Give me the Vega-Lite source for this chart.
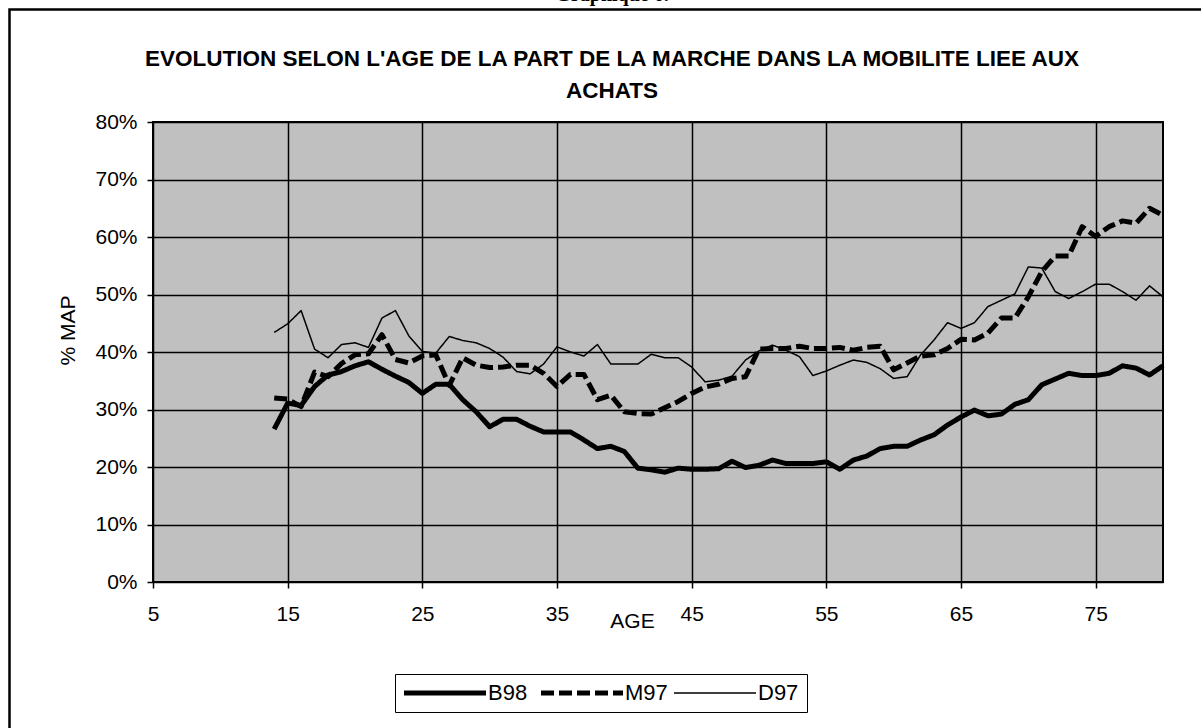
{
  "$schema": "https://vega.github.io/schema/vega-lite/v6.json",
  "width": 1010,
  "height": 460,
  "autosize": {"type": "none"},
  "padding": {"left": 153, "top": 122, "right": 38, "bottom": 146},
  "background": "white",
  "title": {
    "text": "Graphique 6.",
    "subtitle": ["EVOLUTION SELON L'AGE DE LA PART DE LA MARCHE DANS LA MOBILITE LIEE AUX", "ACHATS"],
    "anchor": "middle",
    "frame": "group",
    "dx": -46,
    "dy": 94,
    "offset": 0,
    "font": "Liberation Serif",
    "fontSize": 20,
    "fontWeight": "bold",
    "color": "black",
    "subtitleFont": "Liberation Sans",
    "subtitleFontSize": 22.5,
    "subtitleFontWeight": "bold",
    "subtitleColor": "black",
    "subtitleLineHeight": 32,
    "subtitlePadding": 43
  },
  "config": {
    "view": {"fill": "#C0C0C0", "stroke": "black", "strokeWidth": 2},
    "axis": {
      "gridColor": "black", "gridWidth": 1.5, "gridOpacity": 1,
      "domain": false,
      "tickColor": "black", "tickWidth": 1.5, "tickSize": 6,
      "labelColor": "black", "labelFont": "Liberation Sans", "labelFontSize": 21,
      "labelFlush": false, "labelOverlap": false,
      "titleFont": "Liberation Sans", "titleFontSize": 21, "titleFontWeight": "normal", "titleColor": "black"
    }
  },
  "layer": [
    {
      "data": {"values": [
        {"age":14,"B98":0.266,"M97":0.320,"D97":0.434},
        {"age":15,"B98":0.311,"M97":0.318,"D97":0.449},
        {"age":16,"B98":0.307,"M97":0.305,"D97":0.472},
        {"age":17,"B98":0.340,"M97":0.365,"D97":0.405},
        {"age":18,"B98":0.360,"M97":0.357,"D97":0.390},
        {"age":19,"B98":0.366,"M97":0.380,"D97":0.413},
        {"age":20,"B98":0.376,"M97":0.395,"D97":0.416},
        {"age":21,"B98":0.383,"M97":0.397,"D97":0.408},
        {"age":22,"B98":0.370,"M97":0.430,"D97":0.459},
        {"age":23,"B98":0.358,"M97":0.387,"D97":0.472},
        {"age":24,"B98":0.347,"M97":0.381,"D97":0.428},
        {"age":25,"B98":0.328,"M97":0.393,"D97":0.401},
        {"age":26,"B98":0.344,"M97":0.395,"D97":0.398},
        {"age":27,"B98":0.344,"M97":0.342,"D97":0.427},
        {"age":28,"B98":0.317,"M97":0.390,"D97":0.420},
        {"age":29,"B98":0.296,"M97":0.377,"D97":0.416},
        {"age":30,"B98":0.270,"M97":0.373,"D97":0.406},
        {"age":31,"B98":0.283,"M97":0.374,"D97":0.391},
        {"age":32,"B98":0.283,"M97":0.377,"D97":0.366},
        {"age":33,"B98":0.271,"M97":0.377,"D97":0.362},
        {"age":34,"B98":0.261,"M97":0.363,"D97":0.379},
        {"age":35,"B98":0.261,"M97":0.340,"D97":0.409},
        {"age":36,"B98":0.261,"M97":0.361,"D97":0.400},
        {"age":37,"B98":0.247,"M97":0.361,"D97":0.393},
        {"age":38,"B98":0.232,"M97":0.317,"D97":0.413},
        {"age":39,"B98":0.236,"M97":0.325,"D97":0.379},
        {"age":40,"B98":0.227,"M97":0.296,"D97":0.379},
        {"age":41,"B98":0.198,"M97":0.293,"D97":0.379},
        {"age":42,"B98":0.195,"M97":0.292,"D97":0.396},
        {"age":43,"B98":0.191,"M97":0.303,"D97":0.390},
        {"age":44,"B98":0.198,"M97":0.314,"D97":0.390},
        {"age":45,"B98":0.196,"M97":0.328,"D97":0.374},
        {"age":46,"B98":0.196,"M97":0.339,"D97":0.348},
        {"age":47,"B98":0.197,"M97":0.344,"D97":0.351},
        {"age":48,"B98":0.210,"M97":0.354,"D97":0.358},
        {"age":49,"B98":0.199,"M97":0.357,"D97":0.386},
        {"age":50,"B98":0.203,"M97":0.405,"D97":0.402},
        {"age":51,"B98":0.212,"M97":0.406,"D97":0.412},
        {"age":52,"B98":0.206,"M97":0.406,"D97":0.403},
        {"age":53,"B98":0.206,"M97":0.410,"D97":0.392},
        {"age":54,"B98":0.206,"M97":0.406,"D97":0.359},
        {"age":55,"B98":0.209,"M97":0.406,"D97":0.367},
        {"age":56,"B98":0.196,"M97":0.408,"D97":0.377},
        {"age":57,"B98":0.212,"M97":0.403,"D97":0.386},
        {"age":58,"B98":0.219,"M97":0.408,"D97":0.382},
        {"age":59,"B98":0.232,"M97":0.410,"D97":0.371},
        {"age":60,"B98":0.236,"M97":0.369,"D97":0.354},
        {"age":61,"B98":0.236,"M97":0.381,"D97":0.357},
        {"age":62,"B98":0.247,"M97":0.393,"D97":0.395},
        {"age":63,"B98":0.256,"M97":0.395,"D97":0.421},
        {"age":64,"B98":0.273,"M97":0.406,"D97":0.451},
        {"age":65,"B98":0.287,"M97":0.422,"D97":0.441},
        {"age":66,"B98":0.299,"M97":0.421,"D97":0.451},
        {"age":67,"B98":0.289,"M97":0.433,"D97":0.479},
        {"age":68,"B98":0.292,"M97":0.459,"D97":0.490},
        {"age":69,"B98":0.309,"M97":0.459,"D97":0.501},
        {"age":70,"B98":0.317,"M97":0.496,"D97":0.548},
        {"age":71,"B98":0.343,"M97":0.540,"D97":0.546},
        {"age":72,"B98":0.353,"M97":0.567,"D97":0.505},
        {"age":73,"B98":0.363,"M97":0.567,"D97":0.493},
        {"age":74,"B98":0.359,"M97":0.618,"D97":0.505},
        {"age":75,"B98":0.359,"M97":0.601,"D97":0.518},
        {"age":76,"B98":0.363,"M97":0.618,"D97":0.518},
        {"age":77,"B98":0.376,"M97":0.628,"D97":0.505},
        {"age":78,"B98":0.372,"M97":0.624,"D97":0.490},
        {"age":79,"B98":0.360,"M97":0.650,"D97":0.515},
        {"age":80,"B98":0.376,"M97":0.638,"D97":0.496}
      ]},
      "transform": [{"fold": ["B98", "M97", "D97"], "as": ["series", "value"]}],
      "mark": {"type": "line", "color": "black", "strokeCap": "butt", "strokeJoin": "round"},
      "encoding": {
        "x": {
          "field": "age", "type": "quantitative",
          "scale": {"domain": [5, 80], "nice": false, "zero": false},
          "axis": {"values": [5, 15, 25, 35, 45, 55, 65, 75], "title": "AGE", "labelPadding": 15,
                   "titleX": 479, "titleY": 45, "titleBaseline": "alphabetic", "titleAnchor": "middle", "titleAlign": "center"}
        },
        "y": {
          "field": "value", "type": "quantitative",
          "scale": {"domain": [0, 0.8], "nice": false, "zero": false},
          "axis": {"values": [0, 0.1, 0.2, 0.3, 0.4, 0.5, 0.6, 0.7, 0.8], "format": ".0%", "title": "% MAP",
                   "labelPadding": 10, "titleX": -85, "titleY": 208, "titleBaseline": "middle", "titleAlign": "center", "titleAngle": -90}
        },
        "strokeDash": {
          "field": "series", "type": "nominal",
          "scale": {"domain": ["B98", "M97", "D97"], "range": [[1, 0], [13, 5], [1, 0]]},
          "legend": {
            "orient": "none", "legendX": 242, "legendY": 552, "direction": "horizontal", "title": null,
            "symbolType": "M-2,0H14.4", "symbolSize": 100, "symbolStrokeColor": "black",
            "labelFont": "Liberation Sans", "labelFontSize": 22, "labelColor": "black", "labelOffset": 63,
            "columnPadding": 3, "padding": 8, "strokeColor": "black", "fillColor": "white"
          }
        },
        "strokeWidth": {
          "field": "series", "type": "nominal",
          "scale": {"type": "ordinal", "domain": ["B98", "M97", "D97"], "range": [5, 5, 1.5]},
          "legend": {
            "orient": "none", "legendX": 242, "legendY": 552, "direction": "horizontal", "title": null,
            "symbolType": "M-2,0H14.4", "symbolSize": 100, "symbolStrokeColor": "black",
            "labelFont": "Liberation Sans", "labelFontSize": 22, "labelColor": "black", "labelOffset": 63,
            "columnPadding": 3, "padding": 8, "strokeColor": "black", "fillColor": "white"
          }
        }
      }
    },
    {
      "data": {"values": [{}]},
      "mark": {"type": "rect", "fillOpacity": 0, "stroke": "black", "strokeWidth": 2.5, "clip": false},
      "encoding": {
        "x": {"datum": -5.656, "type": "quantitative", "scale": {"domain": [5, 80], "nice": false, "zero": false}},
        "x2": {"datum": 90},
        "y": {"datum": 0.9957, "type": "quantitative", "scale": {"domain": [0, 0.8], "nice": false, "zero": false}},
        "y2": {"datum": -0.4}
      }
    }
  ]
}
